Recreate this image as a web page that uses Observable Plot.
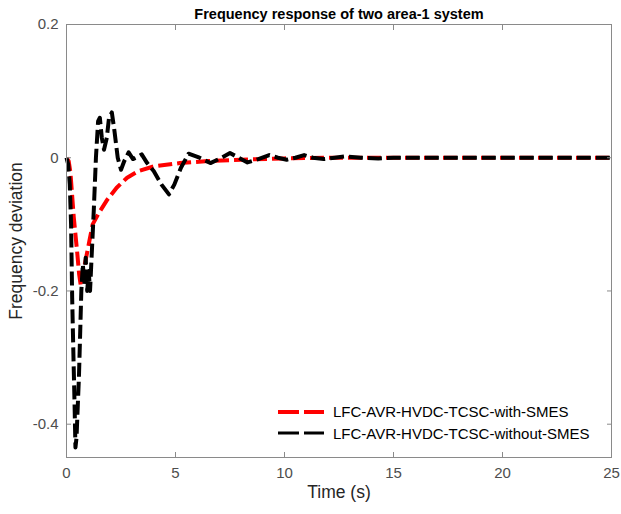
<!DOCTYPE html>
<html><head><meta charset="utf-8">
<script src="https://cdn.jsdelivr.net/npm/d3@7"></script>
<script src="https://cdn.jsdelivr.net/npm/@observablehq/plot@0.6"></script>
<style>
body{margin:0;background:#fff;font-family:"Liberation Sans",Arial,sans-serif;}
#wrap{position:relative;width:621px;height:514px;}
#legend{position:absolute;left:278px;top:401px;font-size:15px;color:#000;}
#legend .row{display:flex;align-items:center;height:21.5px;}
#legend svg{margin-right:9px;}
</style></head><body><div id="wrap"><div id="legend"></div></div>
<script>
const title = "Frequency response of two area-1 system";
const xLabel = "Time (s)";
const yLabel = "Frequency deviation";
const seriesNames = ["LFC-AVR-HVDC-TCSC-with-SMES", "LFC-AVR-HVDC-TCSC-without-SMES"];
const seriesColors = ["#ff0000", "#000000"];
const xTicks = [0, 5, 10, 15, 20, 25];
const yTicks = [-0.4, -0.2, 0, 0.2];

const tWith = [0, 0.1, 0.18, 0.33, 0.49, 0.58, 0.66, 0.75, 0.9, 1.05, 1.2, 1.5, 1.87, 2.3, 2.78, 3.3, 4.0, 5.2, 6.5, 8, 10, 12, 25];
const vWith = [0, -0.005, -0.022, -0.088, -0.142, -0.175, -0.193, -0.175, -0.15, -0.125, -0.1, -0.082, -0.063, -0.045, -0.030, -0.02, -0.013, -0.008, -0.005, -0.003, -0.001, 0, 0];

const tWithout = [0, 0.08, 0.15, 0.21, 0.26, 0.32, 0.37, 0.41, 0.46, 0.52, 0.57, 0.63, 0.68, 0.75, 0.82, 0.88, 0.95, 1.02, 1.08, 1.15, 1.25, 1.35, 1.45, 1.53, 1.62, 1.72, 1.85, 1.95, 2.08, 2.2, 2.35, 2.5, 2.65, 2.85, 3.05, 3.2, 3.45, 3.7, 4.0, 4.35, 4.7, 4.95, 5.25, 5.6, 6.1, 6.6, 7.0, 7.5, 7.9, 8.3, 8.8, 9.3, 9.7, 10.1, 10.5, 10.9, 11.3, 11.8, 12.3, 12.8, 13.5, 14.3, 15, 25];
const vWithout = [0, -0.01, -0.04, -0.1, -0.21, -0.3, -0.37, -0.435, -0.42, -0.37, -0.33, -0.26, -0.2, -0.16, -0.19, -0.15, -0.2, -0.17, -0.2, -0.15, -0.08, 0.0, 0.055, 0.06, 0.03, 0.012, 0.03, 0.06, 0.068, 0.04, 0.0, -0.018, -0.005, 0.008, -0.002, 0.0, 0.005, -0.008, -0.02, -0.04, -0.055, -0.04, -0.015, 0.006, 0.0, -0.008, -0.002, 0.007, 0.0, -0.007, -0.002, 0.004, 0.0, -0.003, 0.0, 0.004, 0.0, -0.002, 0.0, 0.002, 0, -0.001, 0, 0];

const data = [
  ...tWith.map((t, i) => ({t, v: vWith[i], s: seriesNames[0]})),
  ...tWithout.map((t, i) => ({t, v: vWithout[i], s: seriesNames[1]}))
];
const fmt = d => String(d);
const axisColor = "#8a8a8a";
const tickText = "#4d4d4d";

const plot = Plot.plot({
  width: 621, height: 514,
  marginLeft: 66, marginRight: 10, marginTop: 24, marginBottom: 57,
  x: {domain: [0, 25]},
  y: {domain: [-0.45, 0.2]},
  color: {domain: seriesNames, range: seriesColors},
  style: {fontFamily: "'Liberation Sans', Arial, sans-serif", fontSize: "15px", background: "#fff"},
  marks: [
    Plot.line(data, {x: "t", y: "v", z: "s", stroke: "s", strokeWidth: 4, strokeDasharray: "14,5", strokeLinecap: "butt"}),
    Plot.frame({stroke: axisColor}),
    Plot.axisX({anchor: "bottom", ticks: xTicks, tickSize: -5, tickPadding: 15, tickFormat: fmt, label: null, stroke: axisColor, fill: tickText, fontSize: 15}),
    Plot.axisX({anchor: "top", ticks: xTicks, tickSize: -5, tickFormat: () => "", label: null, stroke: axisColor}),
    Plot.axisY({anchor: "left", ticks: yTicks, tickSize: -5, tickPadding: 13, tickFormat: fmt, label: null, stroke: axisColor, fill: tickText, fontSize: 15}),
    Plot.axisY({anchor: "right", ticks: yTicks, tickSize: -5, tickFormat: () => "", label: null, stroke: axisColor}),
    Plot.text([title], {frameAnchor: "top", dy: -16, fontWeight: "bold", fontSize: 14.5, fill: "#000"}),
    Plot.text([xLabel], {frameAnchor: "bottom", dy: 40, fontSize: 17.5, fill: "#262626"}),
    Plot.text([yLabel], {frameAnchor: "left", dx: -50, rotate: -90, textAnchor: "middle", fontSize: 17.5, fill: "#262626"})
  ]
});
document.getElementById("wrap").prepend(plot);

const legend = document.getElementById("legend");
seriesNames.forEach((name, i) => {
  const row = document.createElement("div");
  row.className = "row";
  row.innerHTML = `<svg width="46" height="8"><line x1="0" y1="4" x2="46" y2="4" stroke="${seriesColors[i]}" stroke-width="${i === 0 ? 4 : 3}" stroke-dasharray="21,5"/></svg><span>${name}</span>`;
  legend.appendChild(row);
});
</script>
</body></html>
